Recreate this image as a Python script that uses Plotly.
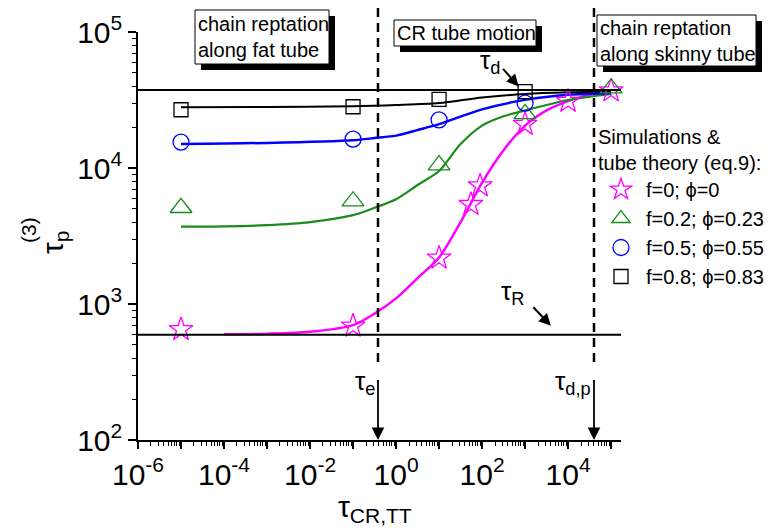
import plotly.graph_objects as go
import math

# ---------------- data ----------------
# simulation points
star_x = [1e-5, 0.1, 10, 55, 90, 1000, 1e4, 1e5]
star_y = [650, 690, 2180, 5400, 7400, 21000, 31000, 37000]
tri_x = [1e-5, 0.1, 10, 1000, 1e5]
tri_y = [5100, 5700, 10500, 25000, 38600]
circ_x = [1e-5, 0.1, 10, 1000]
circ_y = [15500, 16300, 22600, 30000]
sq_x = [1e-5, 0.1, 10, 1000]
sq_y = [26800, 28200, 32000, 36500]

# theory curves
mag_cx = [1e-4, 1e-3, 1e-2, 0.1, 0.316, 1, 3.16, 10, 31.6, 100, 316, 1000, 3160, 1e4, 31600, 1e5]
mag_cy = [600, 605, 625, 700, 850, 1100, 1550, 2200, 4000, 7800, 13500, 20500, 26500, 31000, 34500, 36000]
grn_cx = [1e-5, 1e-4, 1e-3, 1e-2, 0.1, 0.316, 1, 3.16, 10, 31.6, 100, 316, 1000, 1e4, 1e5]
grn_cy = [3700, 3720, 3800, 4000, 4500, 5100, 5900, 7500, 9500, 15000, 20500, 24000, 26500, 31600, 35000]
blu_cx = [1e-5, 1e-3, 0.1, 0.316, 1, 3.16, 10, 100, 1000, 1e4, 1e5]
blu_cy = [15000, 15300, 16000, 16600, 17300, 19000, 21000, 27000, 31700, 34600, 35500]
blk_cx = [1e-5, 1e-3, 0.1, 1, 10, 100, 1000, 1e4, 1e5]
blk_cy = [28000, 28100, 28400, 29000, 30000, 33000, 35000, 36000, 36500]

# characteristic times
tau_d = 37500
tau_R = 595
tau_e = 0.38
tau_dp = 4.0e4

legend_names = ["f=0; \u03d5=0", "f=0.2; \u03d5=0.23", "f=0.5; \u03d5=0.55", "f=0.8; \u03d5=0.83"]

x_tickvals = [1e-6, 1e-5, 1e-4, 1e-3, 1e-2, 1e-1, 1, 10, 100, 1e3, 1e4, 1e5]
x_ticktext = ["10<sup>-6</sup>", "", "10<sup>-4</sup>", "", "10<sup>-2</sup>", "",
              "10<sup>0</sup>", "", "10<sup>2</sup>", "", "10<sup>4</sup>", ""]
y_tickvals = [1e2, 1e3, 1e4, 1e5]
y_ticktext = ["10<sup>2</sup>", "10<sup>3</sup>", "10<sup>4</sup>", "10<sup>5</sup>"]

# ---------------- figure ----------------
FONT = "Liberation Sans, Arial, sans-serif"
W, H = 774, 532
L, R, T, B = 130, 161, 24, 100
PW, PH = W - L - R, H - T - B


def px(x):
    return (x - L) / PW


def py(y):
    return (H - B - y) / PH


MAG, GRN, BLU, BLK = "#FF00FF", "#1A8C1A", "#0000FF", "#000000"

fig = go.Figure()

# curves
for cx, cy, col, w in [(mag_cx, mag_cy, MAG, 2.5), (grn_cx, grn_cy, GRN, 2.2),
                       (blu_cx, blu_cy, BLU, 2.5), (blk_cx, blk_cy, BLK, 2.0)]:
    fig.add_trace(go.Scatter(x=cx, y=cy, mode="lines", line=dict(color=col, width=w, shape="spline", smoothing=0.8),
                             showlegend=False, hoverinfo="skip"))

# markers
for mx, my, col, sym, sz, name in [
    (star_x, star_y, MAG, "star-open", 18, legend_names[0]),
    (tri_x, tri_y, GRN, "triangle-up-open", 19, legend_names[1]),
    (circ_x, circ_y, BLU, "circle-open", 16, legend_names[2]),
    (sq_x, sq_y, BLK, "square-open", 14, legend_names[3]),
]:
    fig.add_trace(go.Scatter(x=mx, y=my, mode="markers", name=name, cliponaxis=False,
                             marker=dict(symbol=sym, size=sz, color=col, line=dict(color=col, width=1.3))))

shapes = []
# horizontal tau lines
for yv in [tau_d, tau_R]:
    shapes.append(dict(type="line", xref="paper", yref="y", x0=0, x1=1, y0=yv, y1=yv,
                       line=dict(color="black", width=2)))
# vertical dashed lines
for xv in [tau_e, tau_dp]:
    shapes.append(dict(type="line", xref="x", yref="paper", x0=xv, x1=xv, y0=py(0), y1=py(358),
                       line=dict(color="black", width=2.5, dash="9px,6px")))
    shapes.append(dict(type="line", xref="x", yref="paper", x0=xv, x1=xv, y0=py(372), y1=py(420),
                       line=dict(color="black", width=1.8)))

# text boxes with shadow
boxes = [
    ((187, 2, 321, 56), "chain reptation<br>along fat tube"),
    ((386, 12, 528, 38), "CR tube motion"),
    ((589, 7, 748, 58), "chain reptation<br>along skinny tube"),
]
annotations = []
for (x0, y0, x1, y1), txt in boxes:
    shapes.append(dict(type="rect", xref="paper", yref="paper", x0=px(x0 + 6), x1=px(x1 + 6),
                       y0=py(y0 + 6), y1=py(y1 + 6), fillcolor="black", line=dict(width=0), layer="above"))
    shapes.append(dict(type="rect", xref="paper", yref="paper", x0=px(x0), x1=px(x1),
                       y0=py(y0), y1=py(y1), fillcolor="white", line=dict(color="black", width=1), layer="above"))
    annotations.append(dict(xref="paper", yref="paper", x=px(x0 + 1), y=py((y0 + y1) / 2), xanchor="left",
                            yanchor="middle", align="left", text=txt, showarrow=False,
                            font=dict(family=FONT, size=20, color="black")))

# arrows
for xv in [tau_e, tau_dp]:
    annotations.append(dict(x=math.log10(xv), y=2, xref="x", yref="y", ax=0, ay=-14, text="",
                            showarrow=True, arrowhead=2, arrowsize=1.4, arrowwidth=1.8, arrowcolor="black"))
# tau_d arrow
annotations.append(dict(x=2.85, y=4.60, xref="x", yref="y", ax=-17, ay=-19, text="",
                        showarrow=True, arrowhead=2, arrowsize=1.2, arrowwidth=2, arrowcolor="black"))
# tau_R arrow
annotations.append(dict(x=3.6, y=2.84, xref="x", yref="y", ax=-19, ay=-20, text="",
                        showarrow=True, arrowhead=2, arrowsize=1.2, arrowwidth=2, arrowcolor="black"))

# labels
labels = [
    (482, 54, "\u03c4<sub>d</sub>"),
    (504, 284, "\u03c4<sub>R</sub>"),
    (357, 374, "\u03c4<sub>e</sub>"),
    (565, 374, "\u03c4<sub>d,p</sub>"),
]
for lx, ly, txt in labels:
    annotations.append(dict(xref="paper", yref="paper", x=px(lx), y=py(ly), text=txt, showarrow=False,
                            xanchor="center", yanchor="middle", font=dict(family=FONT, size=26, color="black")))

# axis titles
annotations.append(dict(xref="paper", yref="paper", x=px(367), y=py(500), text="\u03c4<sub>CR,TT</sub>",
                        showarrow=False, xanchor="center", yanchor="middle",
                        font=dict(family=FONT, size=30, color="black")))
annotations.append(dict(xref="paper", yref="paper", x=px(47), y=py(234), text="\u03c4<sub>p</sub>",
                        showarrow=False, xanchor="center", yanchor="middle", textangle=-90,
                        font=dict(family=FONT, size=30, color="black")))
annotations.append(dict(xref="paper", yref="paper", x=px(20), y=py(222), text="(3)",
                        showarrow=False, xanchor="center", yanchor="middle", textangle=-90,
                        font=dict(family=FONT, size=21, color="black")))

fig.update_layout(
    width=W, height=H,
    margin=dict(l=L, r=R, t=T, b=B, autoexpand=False),
    paper_bgcolor="white", plot_bgcolor="white",
    font=dict(family=FONT, color="black"),
    shapes=shapes, annotations=annotations,
    legend=dict(x=px(588), y=py(110), xanchor="left", yanchor="top", bgcolor="rgba(0,0,0,0)",
                font=dict(family=FONT, size=20), itemwidth=40,
                title=dict(text="Simulations &<br>tube theory (eq.9):", font=dict(family=FONT, size=20))),
    xaxis=dict(type="log", range=[-6, 5.23], showgrid=False, zeroline=False, showline=True,
               linecolor="black", linewidth=1.5, ticks="outside", ticklen=7, tickwidth=1.5, tickcolor="black",
               tickmode="array", tickvals=x_tickvals, ticktext=x_ticktext, automargin=False,
               tickfont=dict(family=FONT, size=30, color="black"),
               minor=dict(dtick="D1", ticks="outside", ticklen=4, tickwidth=1, tickcolor="black", showgrid=False)),
    yaxis=dict(type="log", range=[2, 5], showgrid=False, zeroline=False, showline=True,
               linecolor="black", linewidth=1.5, ticks="outside", ticklen=8, tickwidth=1.5, tickcolor="black",
               tickmode="array", tickvals=y_tickvals, ticktext=y_ticktext, automargin=False,
               tickfont=dict(family=FONT, size=30, color="black"),
               minor=dict(dtick="D1", ticks="outside", ticklen=4, tickwidth=1, tickcolor="black", showgrid=False)),
)

fig.write_html("out.html")
